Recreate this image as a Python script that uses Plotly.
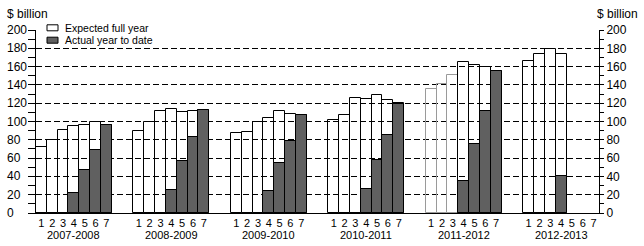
import plotly.graph_objects as go

# ---- data ----
groups = ["2007-2008", "2008-2009", "2009-2010", "2010-2011", "2011-2012", "2012-2013"]
periods = ["1", "2", "3", "4", "5", "6", "7"]
expected = [
    [72.5, 80, 91, 95, 96, 99, 96],
    [90, 99, 111.5, 114, 110, 111.5, 112.5],
    [87, 88.5, 99.5, 104, 111.5, 108, 107],
    [101.5, 107, 125.5, 124.5, 129, 123.5, 120],
    [135, 141, 150.5, 165.5, 162, 159.5, 155.5],
    [166, 174, 179.5, 174, None, None, None],
]
actual = [
    [None, None, None, 22, 47, 69, 96],
    [None, None, None, 25, 56.5, 83, 112.5],
    [None, None, None, 24, 54.5, 79, 107],
    [None, None, None, 26, 58, 85.5, 119],
    [None, None, None, 35, 75.5, 111.5, 155.5],
    [None, None, None, 40.5, None, None, None],
]
ytick_vals = [0, 20, 40, 60, 80, 100, 120, 140, 160, 180, 200]
grid_vals = [20, 40, 60, 80, 100, 120, 140, 160, 180]

# ---- geometry ----
W, H = 644, 246
L, R, T, B = 36, 45, 30, 33
PW, PH = W - L - R, H - T - B
SLOTS = 9  # 7 bars + 2 gap slots per group

def px_x(p):
    return (p - L) / PW

def px_y(p):
    return (H - B - p) / PH

FONT = "Liberation Sans, Arial, Helvetica, sans-serif"
DARK = "#606060"

xs, ye, ya, lc, tv, tt = [], [], [], [], [], []
for g, grp in enumerate(groups):
    for i, per in enumerate(periods):
        pos = g * SLOTS + i
        xs.append(pos)
        ye.append(expected[g][i])
        ya.append(actual[g][i])
        lc.append("#9a9a9a" if (g == 4 and i < 3) else "black")
        tv.append(pos)
        tt.append(per)

fig = go.Figure()
fig.add_trace(go.Bar(
    x=xs, y=ye, width=1, name="Expected full year",
    marker=dict(color="rgba(255,255,255,0)", line=dict(color=lc, width=1)),
    showlegend=False, hoverinfo="skip",
))
fig.add_trace(go.Bar(
    x=xs, y=ya, width=1, name="Actual year to date", yaxis="y2",
    marker=dict(color=DARK, line=dict(color="black", width=1)),
    showlegend=False, hoverinfo="skip",
))

n_slots = len(groups) * SLOTS - 2
fig.update_layout(
    width=W, height=H,
    margin=dict(l=L, r=R, t=T, b=B, pad=0),
    paper_bgcolor="white", plot_bgcolor="white",
    barmode="overlay", bargap=0,
    font=dict(family=FONT, size=12, color="black"),
    xaxis=dict(
        range=[-0.5, n_slots - 0.5], showgrid=False, zeroline=False,
        showline=True, linecolor="black", linewidth=1,
        tickmode="array", tickvals=tv, ticktext=tt, ticks="",
        tickfont=dict(size=11), ticklabelstandoff=0,
    ),
    yaxis=dict(
        range=[0, 200], zeroline=False,
        showline=True, linecolor="black", linewidth=1,
        tickmode="array", tickvals=grid_vals, ticks="outside", ticklen=7,
        tickcolor="black", showticklabels=False,
        showgrid=True, gridcolor="black", gridwidth=1, griddash="6px,3px",
        minor=dict(dtick=10, ticks="outside", ticklen=7, tickcolor="black", showgrid=False),
    ),
    yaxis2=dict(
        overlaying="y", side="right", range=[0, 200],
        showgrid=False, zeroline=False,
        showline=True, linecolor="black", linewidth=1,
        tickmode="array", tickvals=ytick_vals, ticks="outside", ticklen=4,
        tickcolor="black", tickfont=dict(size=12),
        minor=dict(dtick=10, ticks="outside", ticklen=4, tickcolor="black", showgrid=False),
    ),
)

ann = []
# left tick labels (left aligned)
for v in ytick_vals:
    ann.append(dict(x=px_x(5), xref="paper", y=v, yref="y", text=str(v),
                    showarrow=False, xanchor="left", yanchor="middle",
                    font=dict(size=12)))
# year labels
for g, grp in enumerate(groups):
    ann.append(dict(x=g * SLOTS + 3, xref="x", y=px_y(235), yref="paper",
                    text=grp, showarrow=False, xanchor="center", yanchor="middle",
                    font=dict(size=11)))
# unit labels
ann.append(dict(x=px_x(5), xref="paper", y=px_y(13.5), yref="paper", text="$ billion",
                showarrow=False, xanchor="left", yanchor="middle", font=dict(size=12)))
ann.append(dict(x=px_x(640), xref="paper", y=px_y(13.5), yref="paper", text="$ billion",
                showarrow=False, xanchor="right", yanchor="middle", font=dict(size=12)))
# legend
legend_items = [("Expected full year", "white", 27.8), ("Actual year to date", DARK, 40.2)]
shapes = []
for label, col, cy in legend_items:
    shapes.append(dict(type="rect", xref="paper", yref="paper",
                       x0=px_x(47), x1=px_x(58), y0=px_y(cy - 3), y1=px_y(cy + 3),
                       fillcolor=col, line=dict(color="black", width=1)))
    ann.append(dict(x=px_x(63), xref="paper", y=px_y(cy), yref="paper", text=label,
                    showarrow=False, xanchor="left", yanchor="middle",
                    font=dict(size=10.5)))

fig.update_layout(annotations=ann, shapes=shapes)
fig.write_html("out.html")
